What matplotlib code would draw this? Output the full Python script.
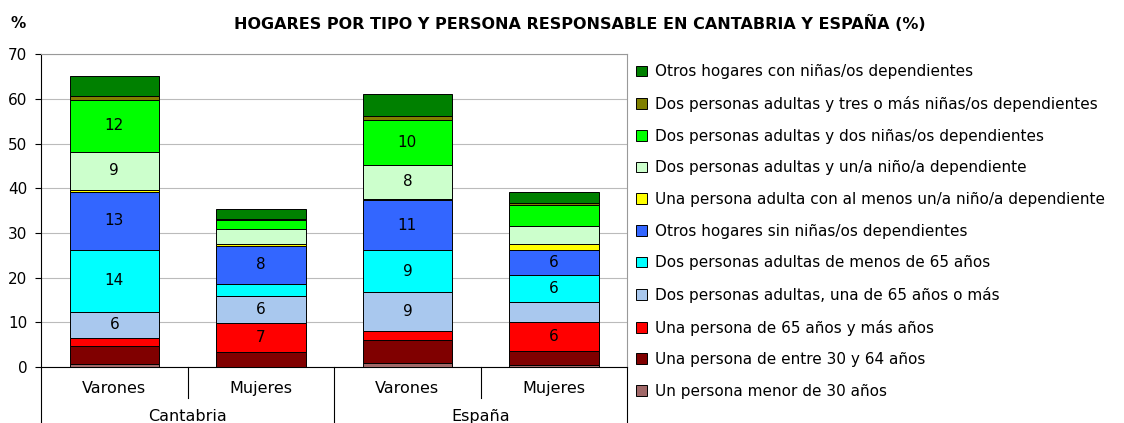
import numpy as np
import matplotlib
matplotlib.use("Agg")
import matplotlib.pyplot as plt
from matplotlib.patches import Patch
from matplotlib.transforms import blended_transform_factory

plt.rcParams['font.family'] = ['DejaVu Sans']

# categories
sexes = ["Varones", "Mujeres", "Varones", "Mujeres"]
regions = ["Cantabria", "España"]

# household types, bottom to top of the stack
series_names = [
    "Un persona menor de 30 años",
    "Una persona de entre 30 y 64 años",
    "Una persona de 65 años y más años",
    "Dos personas adultas, una de 65 años o más",
    "Dos personas adultas de menos de 65 años",
    "Otros hogares sin niñas/os dependientes",
    "Una persona adulta con al menos un/a niño/a dependiente",
    "Dos personas adultas y un/a niño/a dependiente",
    "Dos personas adultas y dos niñas/os dependientes",
    "Dos personas adultas y tres o más niñas/os dependientes",
    "Otros hogares con niñas/os dependientes",
]
series_colors = ["#A06868", "#800000", "#FF0000", "#A9C8EE", "#00FFFF", "#3366FF",
                 "#FFFF00", "#CCFFCC", "#00FF00", "#808000", "#008000"]

# values (%) per series, columns: Cant. Varones, Cant. Mujeres, Esp. Varones, Esp. Mujeres
menor30 = [0.8, 0.1, 1.0, 0.4]
entre30_64 = [3.9, 3.2, 5.0, 3.2]
mayor65 = [1.9, 6.6, 2.1, 6.4]
dos_una65 = [5.8, 6.0, 8.6, 4.5]
dos_menos65 = [13.9, 2.8, 9.4, 6.1]
otros_sin = [12.8, 8.4, 11.3, 5.6]
una_adulta_ninos = [0.5, 0.5, 0.3, 1.3]
dos_un_nino = [8.6, 3.4, 7.6, 4.0]
dos_dos_ninos = [11.6, 2.0, 9.9, 4.7]
dos_tres_ninos = [0.8, 0.1, 0.9, 0.4]
otros_con = [4.6, 2.3, 4.9, 2.5]

data = [menor30, entre30_64, mayor65, dos_una65, dos_menos65, otros_sin,
        una_adulta_ninos, dos_un_nino, dos_dos_ninos, dos_tres_ninos, otros_con]

fig = plt.figure(figsize=(11.24, 4.23), dpi=100)
ax = fig.add_axes([0.0365, 0.132, 0.5215, 0.740])

x = np.arange(len(sexes))
bottom = np.zeros(len(sexes))
for vals, col in zip(data, series_colors):
    vals = np.array(vals)
    ax.bar(x, vals, bottom=bottom, width=0.61, color=col,
           edgecolor="black", linewidth=0.7, zorder=3)
    for xi, v, b in zip(x, vals, bottom):
        if v >= 5.5:
            ax.text(xi, b + v / 2, f"{v:.0f}", ha="center", va="center",
                    fontsize=11, zorder=4)
    bottom += vals

ax.set_xlim(-0.5, 3.5)
ax.set_ylim(0, 70)
ax.set_yticks(range(0, 71, 10))
ax.tick_params(axis="y", labelsize=11, length=4, width=0.8, pad=6)
ax.yaxis.grid(True, color="#BBBBBB", linewidth=0.8, zorder=0)
ax.set_xticks([])
for s in ["top", "right"]:
    ax.spines[s].set_color("#999999")
ax.spines["left"].set_color("black")
ax.spines["bottom"].set_color("black")

# category labels under the axis
trans = blended_transform_factory(ax.transData, ax.transAxes)
for xi, lab in zip(x, sexes):
    ax.text(xi, -0.068, lab, transform=trans, ha="center", va="center", fontsize=11.5)
for gi, lab in enumerate(regions):
    ax.text(gi * 2 + 0.5, -0.158, lab, transform=trans, ha="center", va="center",
            fontsize=11.5)
for xs in [0.5, 2.5]:
    ax.plot([xs, xs], [0, -0.1], transform=trans, color="black", lw=0.8, clip_on=False)
for xs in [-0.5, 1.5, 3.5]:
    ax.plot([xs, xs], [0, -0.2], transform=trans, color="black", lw=0.8, clip_on=False)

fig.text(0.009, 0.945, "%", fontsize=11, fontweight="bold", va="center")
fig.text(0.516, 0.945, "HOGARES POR TIPO Y PERSONA RESPONSABLE EN CANTABRIA Y ESPAÑA (%)",
         fontsize=11.5, fontweight="bold", ha="center", va="center")

handles = [Patch(facecolor=c, edgecolor="black", linewidth=0.7) for c in series_colors]
ax.legend(handles[::-1], series_names[::-1], loc="upper left",
          bbox_to_anchor=(0.566, 0.848), bbox_transform=fig.transFigure,
          frameon=False, fontsize=11, handlelength=0.7, handleheight=0.7,
          handletextpad=0.5, labelspacing=1.09, borderaxespad=0, borderpad=0)

fig.savefig("out.png", dpi=100)
